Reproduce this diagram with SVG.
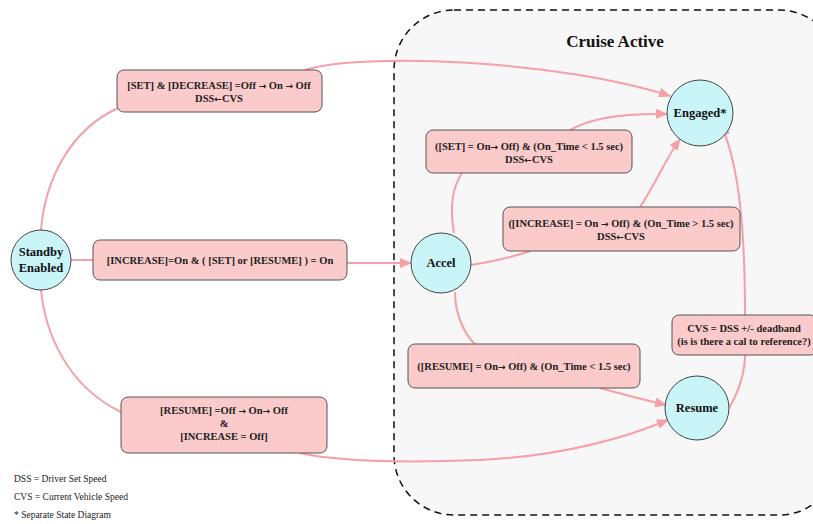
<svg xmlns="http://www.w3.org/2000/svg" width="813" height="524" viewBox="0 0 813 524">
<defs>
<style>
.edge{fill:none;stroke:#f5a0a6;stroke-width:2}
.node circle{fill:#c9f4f8;stroke:#444;stroke-width:1}
.node text{font-family:'Liberation Serif','Times New Roman',serif;font-weight:bold;font-size:12.5px;fill:#111;text-anchor:middle}
.lbl rect{fill:#fbcaca;stroke:#555;stroke-width:1}
.lbl text{font-family:'Liberation Serif','Times New Roman',serif;font-weight:bold;font-size:10.5px;fill:#222;text-anchor:middle}
.ar{font-family:'DejaVu Sans',sans-serif;font-weight:bold;font-size:9px}
.legend{font-family:'Liberation Serif','Times New Roman',serif;font-size:9.5px;fill:#222}
.title{font-family:'Liberation Serif','Times New Roman',serif;font-weight:bold;font-size:17px;fill:#111;text-anchor:middle}
</style>
<marker id="arr" viewBox="0 0 12 10" refX="11" refY="5" markerWidth="12" markerHeight="10" markerUnits="userSpaceOnUse" orient="auto">
<path d="M0,0 L12,5 L0,10 z" fill="#f5a0a6"/>
</marker>
</defs>
<rect width="813" height="524" fill="#ffffff"/>
<g id="cluster-cruise-active">
<rect x="394" y="10" width="445" height="505" rx="60" fill="#f7f7f7" stroke="#111" stroke-width="1.5" stroke-dasharray="7,5"/>
<text class="title" x="615" y="47">Cruise Active</text>
</g>
<g id="connectors">
<path class="edge" d="M41,230 C45,180 70,130 118,108"/>
<path class="edge" d="M305,70 C360,52 560,60 670,96" marker-end="url(#arr)"/>
<path class="edge" d="M71,260 L93,260"/>
<path class="edge" d="M347,263 L411,263" marker-end="url(#arr)"/>
<path class="edge" d="M41,290 C45,330 65,385 121,412"/>
<path class="edge" d="M300,453 C340,462 400,463 480,460 C560,456 620,440 668,420" marker-end="url(#arr)"/>
<path class="edge" d="M454,233 C450,210 452,188 462,173"/>
<path class="edge" d="M570,130 C590,118 620,113 667,114" marker-end="url(#arr)"/>
<path class="edge" d="M471,265 C490,262 510,258 530,251"/>
<path class="edge" d="M640,207 C655,185 665,160 680,139" marker-end="url(#arr)"/>
<path class="edge" d="M455,292 C455,315 465,335 475,344"/>
<path class="edge" d="M600,388 C625,395 645,400 666,405" marker-end="url(#arr)"/>
<path class="edge" d="M729,408 C740,390 745,370 745,355"/>
<path class="edge" d="M745,315 C745,250 742,170 721,125" marker-end="url(#arr)"/>
</g>
<g id="node-standby" class="node">
<circle cx="41" cy="260" r="30"/>
<text x="41" y="256">Standby</text>
<text x="41" y="272">Enabled</text>
</g>
<g id="node-accel" class="node">
<circle cx="441" cy="263" r="30"/>
<text x="441" y="267">Accel</text>
</g>
<g id="node-engaged" class="node">
<circle cx="700" cy="113" r="33"/>
<text x="700" y="117">Engaged*</text>
</g>
<g id="node-resume" class="node">
<circle cx="697" cy="408" r="32"/>
<text x="697" y="412">Resume</text>
</g>
<g id="label-set-decrease" class="lbl">
<rect x="117" y="70" width="205" height="42" rx="7"/>
<text x="219" y="89">[SET] &amp; [DECREASE] =Off <tspan class="ar">→</tspan> On <tspan class="ar">→</tspan> Off</text>
<text x="219" y="102">DSS<tspan class="ar">←</tspan>CVS</text>
</g>
<g id="label-set-short" class="lbl">
<rect x="426" y="130" width="206" height="43" rx="7"/>
<text x="529" y="150">([SET] = On<tspan class="ar">→</tspan> Off) &amp; (On_Time &lt; 1.5 sec)</text>
<text x="529" y="163">DSS<tspan class="ar">←</tspan>CVS</text>
</g>
<g id="label-increase-long" class="lbl">
<rect x="503" y="207" width="237" height="44" rx="7"/>
<text x="621" y="227">([INCREASE] = On <tspan class="ar">→</tspan> Off) &amp; (On_Time &gt; 1.5 sec)</text>
<text x="621" y="240">DSS<tspan class="ar">←</tspan>CVS</text>
</g>
<g id="label-increase-on" class="lbl">
<rect x="93" y="240" width="254" height="40" rx="7"/>
<text x="220" y="264">[INCREASE]=On &amp; ( [SET] or [RESUME] ) = On</text>
</g>
<g id="label-resume-short" class="lbl">
<rect x="408" y="344" width="232" height="44" rx="7"/>
<text x="524" y="370">([RESUME] = On<tspan class="ar">→</tspan> Off) &amp; (On_Time &lt; 1.5 sec)</text>
</g>
<g id="label-deadband" class="lbl">
<rect x="672" y="315" width="145" height="40" rx="7"/>
<text x="744" y="332">CVS = DSS +/- deadband</text>
<text x="744" y="345">(is is there a cal to reference?)</text>
</g>
<g id="label-resume-off" class="lbl">
<rect x="121" y="397" width="206" height="56" rx="7"/>
<text x="224" y="414">[RESUME] =Off <tspan class="ar">→</tspan> On<tspan class="ar">→</tspan> Off</text>
<text x="224" y="427">&amp;</text>
<text x="224" y="440">[INCREASE = Off]</text>
</g>
<g id="legend">
<text class="legend" x="14" y="482">DSS = Driver Set Speed</text>
<text class="legend" x="14" y="500">CVS = Current Vehicle Speed</text>
<text class="legend" x="14" y="518">* Separate State Diagram</text>
</g>
</svg>
